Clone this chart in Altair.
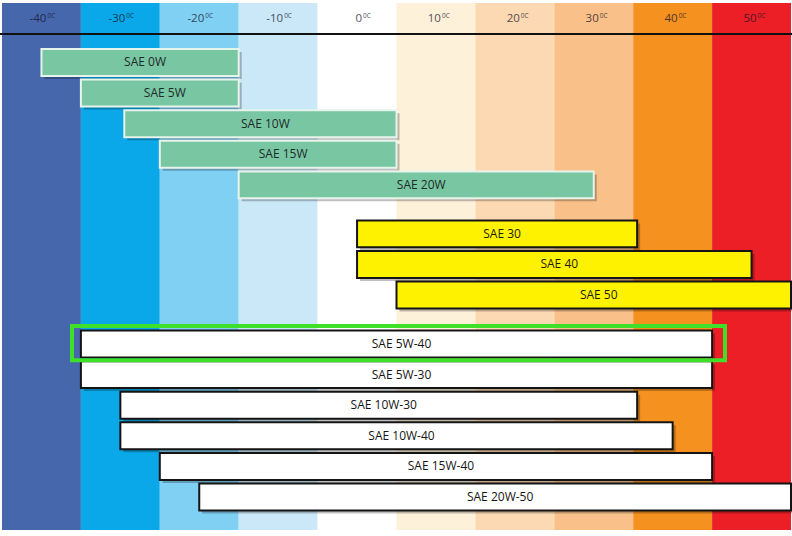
import altair as alt
import pandas as pd

# ---- data ----
temps = [-40, -30, -20, -10, 0, 10, 20, 30, 40, 50]
band_colors = ["#4767ad", "#0aa8e9", "#80d0f4", "#cbe8f9", "#ffffff",
               "#fdf1da", "#fcd9b3", "#f9c189", "#f5911f", "#ec1f26"]

grades = ["SAE 0W", "SAE 5W", "SAE 10W", "SAE 15W", "SAE 20W",
          "SAE 30", "SAE 40", "SAE 50",
          "SAE 5W-40", "SAE 5W-30", "SAE 10W-30", "SAE 10W-40", "SAE 15W-40", "SAE 20W-50"]
low_temp = [-40, -35, -29.5, -25, -15,
            0, 0, 5,
            -35, -35, -30, -30, -25, -20]
high_temp = [-15, -15, 5, 5, 30,
             35.5, 50, 55,
             45, 45, 35.5, 40, 45, 55]
group = ["winter"] * 5 + ["summer"] * 3 + ["multigrade"] * 6
highlight = "SAE 5W-40"

group_names = ["winter", "summer", "multigrade"]
group_fill = ["#79c6a2", "#fff200", "#ffffff"]
group_stroke = ["#e6f4ec", "#141414", "#141414"]
group_text = ["#1d2b2a", "#1d1d10", "#151515"]

GAP = 0.6  # extra spacing between groups, in rows
rows = []
for i, g in enumerate(grades):
    gi = group_names.index(group[i])
    rows.append({"grade": g, "low": low_temp[i], "high": high_temp[i],
                 "group": group[i], "slot": i + GAP * gi})
df = pd.DataFrame(rows)
band_df = pd.DataFrame({"t": temps, "label": [str(t) for t in temps]})

W, H = 789, 527
xscale = alt.Scale(domain=[-45, 55], nice=False, zero=False)
yscale = alt.Scale(domain=[-1.944, 15.278], reverse=True, nice=False, zero=False)
HALF = 0.44

bands = alt.Chart(band_df).transform_calculate(
    lo="datum.t - 5", hi="datum.t + 5"
).mark_rect().encode(
    x=alt.X("lo:Q", scale=xscale, axis=None),
    x2="hi:Q",
    color=alt.Color("label:N", scale=alt.Scale(domain=[str(t) for t in temps], range=band_colors), legend=None),
)

rule = alt.Chart(band_df).mark_rule(color="#111111", strokeWidth=2).encode(
    y=alt.value(31), x=alt.value(-2), x2=alt.value(791)
)

head_main = alt.Chart(band_df).mark_text(
    align="right", baseline="middle", fontSize=11.5, font="Open Sans", color="#141428",
    opacity=0.75, dx=5
).encode(x=alt.X("t:Q", scale=xscale, axis=None), y=alt.value(16), text="label:N")

head_sup = alt.Chart(band_df).transform_calculate(sup="'0C'").mark_text(
    align="left", baseline="middle", fontSize=6.5, font="Open Sans", color="#141428",
    opacity=0.75, dx=6
).encode(x=alt.X("t:Q", scale=xscale, axis=None), y=alt.value(13), text="sup:N")

base = alt.Chart(df).transform_calculate(
    y0="datum.slot - %f" % HALF, y1="datum.slot + %f" % HALF
)

shadow = base.mark_rect(color="#000000", opacity=0.25, xOffset=3, x2Offset=3, yOffset=3, y2Offset=3).encode(
    x=alt.X("low:Q", scale=xscale, axis=None), x2="high:Q",
    y=alt.Y("y0:Q", scale=yscale, axis=None), y2="y1:Q",
)

bars = base.mark_rect(strokeWidth=2).encode(
    x=alt.X("low:Q", scale=xscale, axis=None), x2="high:Q",
    y=alt.Y("y0:Q", scale=yscale, axis=None), y2="y1:Q",
    fill=alt.Fill("group:N", scale=alt.Scale(domain=group_names, range=group_fill), legend=None),
    stroke=alt.Stroke("group:N", scale=alt.Scale(domain=group_names, range=group_stroke), legend=None),
)

labels = base.transform_calculate(mid="(datum.low + datum.high) / 2").mark_text(
    align="center", baseline="middle", fontSize=12, font="Open Sans", dx=5
).encode(
    x=alt.X("mid:Q", scale=xscale, axis=None),
    y=alt.Y("slot:Q", scale=yscale, axis=None),
    text="grade:N",
    color=alt.Color("group:N", scale=alt.Scale(domain=group_names, range=group_text), legend=None),
)

hl = alt.Chart(df).transform_filter(alt.datum.grade == highlight).transform_calculate(
    hx0="datum.low - 1.13", hx1="datum.high + 1.63",
    hy0="datum.slot - 0.59", hy1="datum.slot + 0.53"
).mark_rect(fill=None, stroke="#3ee02a", strokeWidth=4).encode(
    x=alt.X("hx0:Q", scale=xscale, axis=None), x2="hx1:Q",
    y=alt.Y("hy0:Q", scale=yscale, axis=None), y2="hy1:Q",
)

chart = alt.layer(bands, rule, head_main, head_sup, shadow, bars, labels, hl).resolve_scale(
    color="independent"
).properties(
    width=W, height=H,
    padding={"left": 2, "top": 3, "right": 1, "bottom": 6},
    autosize=alt.AutoSizeParams(type="none"),
    background="white",
).configure_view(stroke=None)

chart.save("out.html", embed_options={"renderer": "svg", "actions": False})
